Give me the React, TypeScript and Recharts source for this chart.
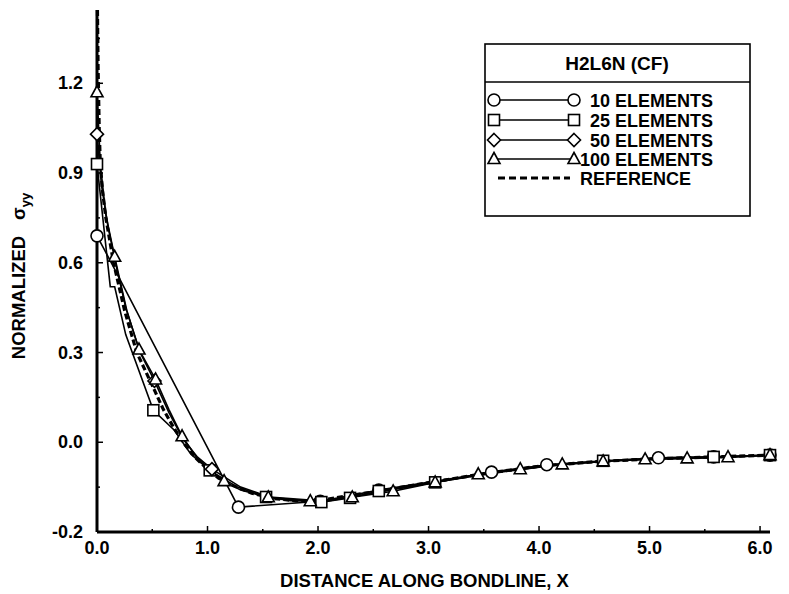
import React from 'react';
import { LineChart, Line, XAxis, YAxis, Legend } from 'recharts';

const FONT = '"Liberation Sans", Arial, Helvetica, sans-serif';

// ---- axes ----
const xDomain = [0, 6.09];
const yDomain = [-0.3, 1.445];
const xMajorTicks = [0, 1, 2, 3, 4, 5, 6];
const xMinorTicks = [0.5, 1.5, 2.5, 3.5, 4.5, 5.5];
const xTickLabels = ['0.0', '1.0', '2.0', '3.0', '4.0', '5.0', '6.0'];
const yMajorTicks = [-0.3, 0, 0.3, 0.6, 0.9, 1.2];
const yMinorTicks = [-0.15, 0.15, 0.45, 0.75, 1.05, 1.35];
const yTickLabels = ['-0.2', '0.0', '0.3', '0.6', '0.9', '1.2'];
const xAxisTitle = 'DISTANCE ALONG BONDLINE, X';
const yAxisTitle = 'NORMALIZED';
const yAxisSymbol = 'σ';
const yAxisSub = 'yy';

// ---- legend ----
const legendTitle = 'H2L6N (CF)';
const legendNames = ['10 ELEMENTS', '25 ELEMENTS', '50 ELEMENTS', '100 ELEMENTS', 'REFERENCE'];

// ---- series: 10 elements (circles) ----
const tenX = [0, 0.13, 1.28, 2.02, 2.55, 3.57, 4.07, 5.08, 5.58, 6.09];
const tenY = [0.69, 0.6, -0.217, -0.197, -0.16, -0.1, -0.075, -0.052, -0.049, -0.043];
const tenMark = [1, 0, 1, 1, 1, 1, 1, 1, 1, 1];

// ---- series: 25 elements (squares) ----
const t25X = [0, 0.12, 0.16, 0.26, 0.51, 0.7, 0.85, 1.02, 1.27, 1.53, 2.03, 2.29, 2.55, 3.06, 3.57, 4.07, 4.58, 5.08, 5.58, 6.09];
const t25Y = [0.93, 0.52, 0.52, 0.36, 0.107, 0.04, -0.04, -0.094, -0.15, -0.183, -0.2, -0.186, -0.163, -0.134, -0.1, -0.076, -0.062, -0.053, -0.049, -0.043];
const t25Mark = [1, 0, 0, 0, 1, 0, 0, 1, 0, 1, 1, 1, 1, 1, 0, 0, 1, 0, 1, 1];

// ---- series: 50 elements (diamonds) ----
const t50X = [0, 0.04, 0.1, 0.18, 0.26, 0.39, 0.52, 0.65, 0.78, 0.91, 1.04, 1.3, 1.56, 2.08, 2.6, 3.12, 3.64, 4.16, 4.68, 5.2, 5.72, 6.09];
const t50Y = [1.03, 0.86, 0.72, 0.58, 0.45, 0.3, 0.205, 0.1, 0.01, -0.05, -0.09, -0.15, -0.183, -0.197, -0.163, -0.13, -0.1, -0.076, -0.062, -0.055, -0.05, -0.043];
const t50Mark = [1, 0, 0, 0, 0, 0, 1, 0, 0, 0, 1, 0, 0, 0, 0, 0, 0, 0, 0, 0, 0, 0];

// ---- series: 100 elements (triangles) ----
const t100X = [0, 0.03, 0.08, 0.16, 0.27, 0.38, 0.53, 0.65, 0.77, 0.9, 1.0, 1.15, 1.3, 1.55, 1.75, 1.93, 2.31, 2.68, 3.06, 3.45, 3.83, 4.21, 4.58, 4.96, 5.34, 5.71, 6.09];
const t100Y = [1.17, 0.93, 0.76, 0.62, 0.44, 0.31, 0.21, 0.11, 0.02, -0.05, -0.085, -0.13, -0.16, -0.184, -0.195, -0.197, -0.184, -0.164, -0.134, -0.107, -0.09, -0.074, -0.064, -0.057, -0.054, -0.05, -0.043];
const t100Mark = [1, 0, 0, 1, 0, 1, 1, 0, 1, 0, 0, 1, 0, 1, 0, 1, 1, 1, 1, 1, 1, 1, 1, 1, 1, 1, 1];

// ---- reference solution (dashed) ----
const refX = [0.004, 0.01, 0.02, 0.03, 0.05, 0.08, 0.15, 0.25, 0.36, 0.5, 0.6, 0.7, 0.8, 0.9, 1.0, 1.1, 1.2, 1.4, 1.6, 1.8, 2.0, 2.5, 3.0, 3.5, 4.0, 4.5, 5.0, 5.5, 6.09];
const refY = [1.445, 1.25, 1.05, 0.93, 0.84, 0.75, 0.6, 0.44, 0.3, 0.19, 0.11, 0.045, -0.01, -0.055, -0.09, -0.12, -0.14, -0.17, -0.188, -0.196, -0.195, -0.166, -0.135, -0.105, -0.08, -0.065, -0.056, -0.05, -0.043];

const build = (xs: number[], ys: number[], ms?: number[]) =>
  xs.map((x, i) => ({ x, y: ys[i], m: ms ? ms[i] : 0 }));

const tenData = build(tenX, tenY, tenMark);
const t25Data = build(t25X, t25Y, t25Mark);
const t50Data = build(t50X, t50Y, t50Mark);
const t100Data = build(t100X, t100Y, t100Mark);
const refData = build(refX, refY);

const xTicksAll = [...xMajorTicks, ...xMinorTicks].sort((a, b) => a - b);
const yTicksAll = [...yMajorTicks, ...yMinorTicks].sort((a, b) => a - b);

type Shape = 'circle' | 'square' | 'diamond' | 'triangle';

function marker(shape: Shape, cx: number, cy: number) {
  const common = { fill: '#fff', stroke: '#000', strokeWidth: 1.6 };
  if (shape === 'circle') return <circle cx={cx} cy={cy} r={6} {...common} />;
  if (shape === 'square') return <rect x={cx - 5.5} y={cy - 5.5} width={11} height={11} {...common} />;
  if (shape === 'diamond')
    return <polygon points={`${cx},${cy - 6.5} ${cx + 6.5},${cy} ${cx},${cy + 6.5} ${cx - 6.5},${cy}`} {...common} />;
  return <polygon points={`${cx},${cy - 6.5} ${cx + 6},${cy + 4.5} ${cx - 6},${cy + 4.5}`} {...common} />;
}

const makeDot = (shape: Shape) => (p: any) => {
  const { cx, cy, payload, index } = p;
  if (!payload || !payload.m || cx == null || cy == null) return <g key={`e-${shape}-${index}`} />;
  return <g key={`d-${shape}-${index}`}>{marker(shape, cx, cy)}</g>;
};

const TEXT = { fontFamily: FONT, fontWeight: 'bold' as const, fill: '#000' };
const X_MARGIN = 8;
const Y_MARGIN = 13;

const isMajor = (arr: number[], v: number) => arr.findIndex((t) => Math.abs(t - v) < 1e-6);

function BottomTick(props: any) {
  const { x, y, payload } = props;
  const idx = isMajor(xMajorTicks, payload.value);
  const ay = y - X_MARGIN;
  return (
    <g>
      <line x1={x} x2={x} y1={ay} y2={ay - (idx >= 0 ? 6 : 3)} stroke="#000" strokeWidth={1.5} />
      {idx >= 0 && (
        <text x={x} y={ay + 22} textAnchor="middle" fontSize={18} {...TEXT}>
          {xTickLabels[idx]}
        </text>
      )}
    </g>
  );
}

function TopTick(props: any) {
  const { x, y, payload } = props;
  const idx = isMajor(xMajorTicks, payload.value);
  return <line x1={x} x2={x} y1={y} y2={y + (idx >= 0 ? 6 : 3)} stroke="#000" strokeWidth={1.5} />;
}

function LeftTick(props: any) {
  const { x, y, payload } = props;
  const idx = isMajor(yMajorTicks, payload.value);
  const ax = x + Y_MARGIN;
  return (
    <g>
      <line x1={ax} x2={ax + (idx >= 0 ? 6 : 3)} y1={y} y2={y} stroke="#000" strokeWidth={1.5} />
      {idx >= 0 && (
        <text x={x - 1} y={y + 6} textAnchor="end" fontSize={18} {...TEXT}>
          {yTickLabels[idx]}
        </text>
      )}
    </g>
  );
}

function RightTick(props: any) {
  const { x, y, payload } = props;
  const idx = isMajor(yMajorTicks, payload.value);
  return <line x1={x} x2={x - (idx >= 0 ? 6 : 3)} y1={y} y2={y} stroke="#000" strokeWidth={1.5} />;
}

function XTitle(props: any) {
  const vb = props.viewBox || { x: 89, y: 524, width: 673, height: 62 };
  return (
    <text x={vb.x + vb.width / 2 - 9} y={vb.y + vb.height - 7} textAnchor="middle" fontSize={18.5} {...TEXT}>
      {xAxisTitle}
    </text>
  );
}

function YTitle(props: any) {
  const vb = props.viewBox || { x: 0, y: 2, width: 89, height: 522 };
  const cx = vb.x + 17;
  const cy = vb.y + vb.height / 2 + 5;
  return (
    <text x={cx} y={cy} transform={`rotate(-90 ${cx} ${cy})`} textAnchor="middle" fontSize={18.5} {...TEXT}>
      {yAxisTitle}
      <tspan dx={16}>{yAxisSymbol}</tspan>
      <tspan dy={5} fontSize={13}>{yAxisSub}</tspan>
    </text>
  );
}

const legendShapes: (Shape | null)[] = ['circle', 'square', 'diamond', 'triangle', null];
const legendRowY = [57, 77, 97, 116, 135];

function LegendBox() {
  return (
    <svg width={268} height={176} style={{ display: 'block', overflow: 'visible' }}>
      <rect x={1} y={1} width={265} height={172} fill="#fff" stroke="#000" strokeWidth={1.6} />
      <text x={133} y={27} textAnchor="middle" fontSize={19} {...TEXT}>
        {legendTitle}
      </text>
      <line x1={1} x2={266} y1={39} y2={39} stroke="#000" strokeWidth={1.5} />
      {legendNames.map((name, i) => {
        const ry = legendRowY[i];
        const shape = legendShapes[i];
        if (!shape) {
          return (
            <g key={name}>
              <line x1={14} x2={86} y1={ry} y2={ry} stroke="#000" strokeWidth={3} strokeDasharray="7 4" />
              <text x={96} y={ry + 6.5} fontSize={18} {...TEXT}>
                {name}
              </text>
            </g>
          );
        }
        return (
          <g key={name}>
            <line x1={10} x2={90} y1={ry} y2={ry} stroke="#000" strokeWidth={1.5} />
            {marker(shape, 10, ry)}
            {marker(shape, 90, ry)}
            <text x={229} y={ry + 6.5} textAnchor="end" fontSize={18} {...TEXT}>
              {name}
            </text>
          </g>
        );
      })}
    </svg>
  );
}

export default function App() {
  return (
    <LineChart width={781} height={586} margin={{ top: 2, right: 19, left: 0, bottom: 0 }}>
      <XAxis
        xAxisId="b"
        type="number"
        dataKey="x"
        orientation="bottom"
        domain={xDomain}
        ticks={xTicksAll}
        interval={0}
        height={62}
        tickSize={0}
        tickMargin={X_MARGIN}
        tickLine={false}
        tick={<BottomTick />}
        axisLine={{ stroke: '#000', strokeWidth: 2.8 }}
        label={<XTitle />}
      />
      <XAxis
        xAxisId="t"
        type="number"
        dataKey="x"
        orientation="top"
        domain={xDomain}
        ticks={xTicksAll}
        interval={0}
        height={0}
        tickSize={0}
        tickMargin={0}
        tickLine={false}
        tick={<TopTick />}
        axisLine={{ stroke: '#000', strokeWidth: 2.6 }}
      />
      <YAxis
        yAxisId="l"
        type="number"
        dataKey="y"
        domain={yDomain}
        ticks={yTicksAll}
        interval={0}
        width={89}
        tickSize={0}
        tickMargin={Y_MARGIN}
        tickLine={false}
        tick={<LeftTick />}
        axisLine={{ stroke: '#000', strokeWidth: 3 }}
        label={<YTitle />}
      />
      <YAxis
        yAxisId="r"
        type="number"
        dataKey="y"
        orientation="right"
        domain={yDomain}
        ticks={yTicksAll}
        interval={0}
        width={0}
        tickSize={0}
        tickMargin={0}
        tickLine={false}
        tick={<RightTick />}
        axisLine={{ stroke: '#000', strokeWidth: 2.2 }}
      />
      <Legend
        layout="horizontal"
        verticalAlign="middle"
        align="center"
        content={() => <LegendBox />}
        wrapperStyle={{ position: 'absolute', left: 476, top: 35, width: 268, height: 176 }}
      />
      <Line
        xAxisId="b"
        yAxisId="l"
        data={refData}
        dataKey="y"
        name="REFERENCE"
        type="linear"
        stroke="#000"
        strokeWidth={3.2}
        strokeDasharray="6 3"
        dot={false}
        activeDot={false}
        isAnimationActive={false}
      />
      <Line
        xAxisId="b"
        yAxisId="l"
        data={tenData}
        dataKey="y"
        name="10 ELEMENTS"
        type="linear"
        stroke="#000"
        strokeWidth={1.6}
        dot={makeDot('circle')}
        activeDot={false}
        isAnimationActive={false}
      />
      <Line
        xAxisId="b"
        yAxisId="l"
        data={t25Data}
        dataKey="y"
        name="25 ELEMENTS"
        type="linear"
        stroke="#000"
        strokeWidth={1.6}
        dot={makeDot('square')}
        activeDot={false}
        isAnimationActive={false}
      />
      <Line
        xAxisId="b"
        yAxisId="l"
        data={t50Data}
        dataKey="y"
        name="50 ELEMENTS"
        type="linear"
        stroke="#000"
        strokeWidth={1.6}
        dot={makeDot('diamond')}
        activeDot={false}
        isAnimationActive={false}
      />
      <Line
        xAxisId="b"
        yAxisId="l"
        data={t100Data}
        dataKey="y"
        name="100 ELEMENTS"
        type="linear"
        stroke="#000"
        strokeWidth={1.6}
        dot={makeDot('triangle')}
        activeDot={false}
        isAnimationActive={false}
      />
    </LineChart>
  );
}
